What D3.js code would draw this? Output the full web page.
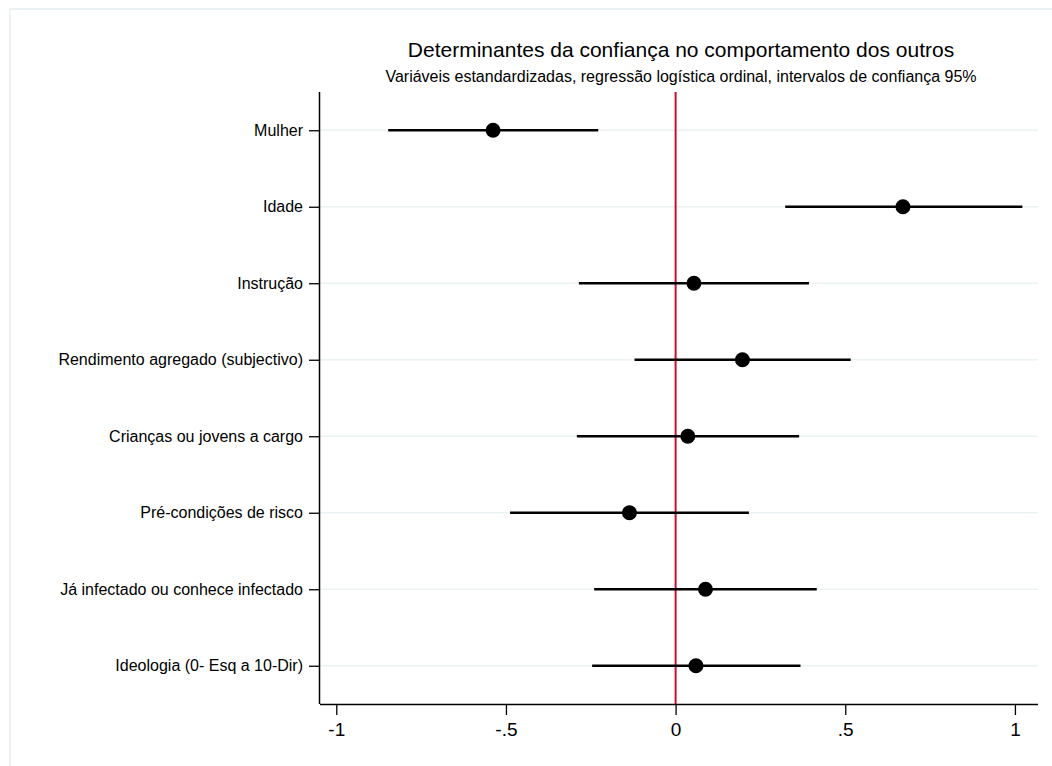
<!DOCTYPE html>
<html>
<head>
<meta charset="utf-8">
<script src="https://cdn.jsdelivr.net/npm/d3@7"></script>
<style>
  html, body { margin: 0; padding: 0; background: #fff; }
  svg { display: block; font-family: "Liberation Sans", Arial, Helvetica, sans-serif; }
</style>
</head>
<body>
<svg id="chart" width="1052" height="766"></svg>
<script>
const categories = [
  "Mulher",
  "Idade",
  "Instrução",
  "Rendimento agregado (subjectivo)",
  "Crianças ou jovens a cargo",
  "Pré-condições de risco",
  "Já infectado ou conhece infectado",
  "Ideologia (0- Esq a 10-Dir)"
];
const estimates = [-0.538, 0.670, 0.054, 0.197, 0.036, -0.136, 0.088, 0.060];
const ciLower   = [-0.847, 0.323, -0.285, -0.121, -0.291, -0.488, -0.240, -0.246];
const ciUpper   = [-0.228, 1.022, 0.393, 0.516, 0.364, 0.216, 0.416, 0.368];
const xTicks = [-1, -0.5, 0, 0.5, 1];
const xTickLabels = ["-1", "-.5", "0", ".5", "1"];
const title = "Determinantes da confiança no comportamento dos outros";
const subtitle = "Variáveis estandardizadas, regressão logística ordinal, intervalos de confiança 95%";

const svg = d3.select("#chart");
const pLeft = 320, pRight = 1038, pTop = 92, pBottom = 704;

// outer frame
svg.append("rect").attr("x", 10).attr("y", 9).attr("width", 1100).attr("height", 800)
  .attr("fill", "none").attr("stroke", "#e6eef0").attr("stroke-width", 1.5);

const x = d3.scaleLinear().domain([-1.048, 1.068]).range([pLeft, pRight]);
const y = d3.scalePoint().domain(categories).range([pTop, pBottom]).padding(0.5);

// gridlines
svg.append("g").selectAll("line").data(categories).join("line")
  .attr("x1", pLeft).attr("x2", pRight)
  .attr("y1", d => y(d)).attr("y2", d => y(d))
  .attr("stroke", "#eaf2f3").attr("stroke-width", 1.5);

// reference line at 0
svg.append("line").attr("x1", x(0)).attr("x2", x(0)).attr("y1", pTop).attr("y2", pBottom)
  .attr("stroke", "#c8102e").attr("stroke-width", 2);

// axes
const xAxis = d3.axisBottom(x).tickValues(xTicks).tickFormat((d, i) => xTickLabels[i])
  .tickSize(11).tickPadding(8);
const gx = svg.append("g").attr("transform", `translate(0,${pBottom})`).call(xAxis);
gx.select(".domain").attr("d", `M${pLeft},0.5H${pRight}`).attr("stroke", "#000").attr("stroke-width", 1.5);
gx.selectAll(".tick line").attr("stroke", "#000").attr("stroke-width", 1.3);
gx.selectAll(".tick text").attr("font-size", 19).attr("fill", "#000")
  .attr("font-family", "Liberation Sans, Arial, sans-serif");

const yAxis = d3.axisLeft(y).tickSize(11).tickPadding(6);
const gy = svg.append("g").attr("transform", `translate(${pLeft},0)`).call(yAxis);
gy.select(".domain").attr("d", `M-0.5,${pTop}V${pBottom}`).attr("stroke", "#000").attr("stroke-width", 1.5);
gy.selectAll(".tick line").attr("stroke", "#000").attr("stroke-width", 1.3);
gy.selectAll(".tick text").attr("font-size", 16).attr("fill", "#000")
  .attr("font-family", "Liberation Sans, Arial, sans-serif");

// CIs and points
const rows = categories.map((c, i) => ({c, est: estimates[i], lo: ciLower[i], hi: ciUpper[i]}));
svg.append("g").selectAll("line").data(rows).join("line")
  .attr("x1", d => x(d.lo)).attr("x2", d => x(d.hi))
  .attr("y1", d => y(d.c)).attr("y2", d => y(d.c))
  .attr("stroke", "#000").attr("stroke-width", 2.5);
svg.append("g").selectAll("circle").data(rows).join("circle")
  .attr("cx", d => x(d.est)).attr("cy", d => y(d.c)).attr("r", 7.5)
  .attr("fill", "#000");

// titles
const cx = 681;
svg.append("text").attr("x", cx).attr("y", 57).attr("text-anchor", "middle")
  .attr("font-size", 21).attr("fill", "#000").text(title);
svg.append("text").attr("x", cx).attr("y", 82).attr("text-anchor", "middle")
  .attr("font-size", 16).attr("fill", "#000").text(subtitle);
</script>
</body>
</html>
